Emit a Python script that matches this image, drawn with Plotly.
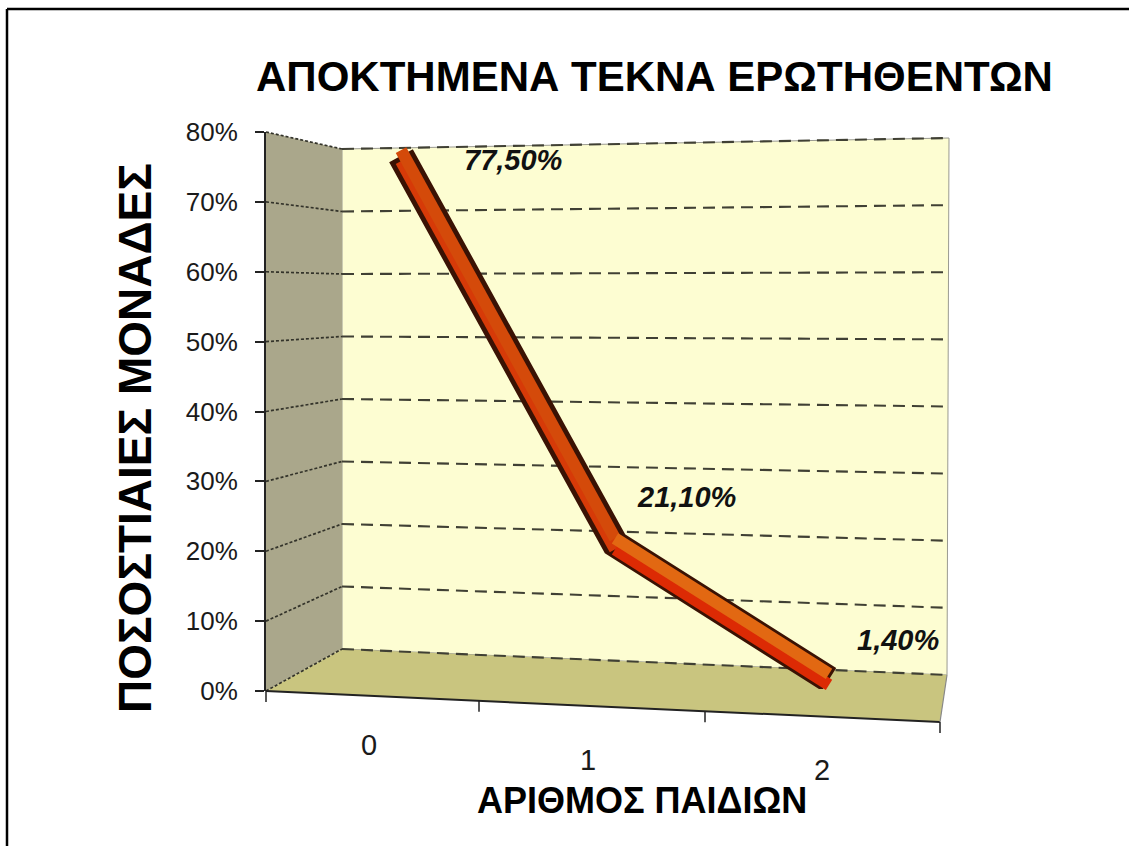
import plotly.graph_objects as go

# ---------------- data ----------------
categories = ["0", "1", "2"]
values = [0.775, 0.211, 0.014]
y_ticks = [0.0, 0.1, 0.2, 0.3, 0.4, 0.5, 0.6, 0.7, 0.8]
title_text = "ΑΠΟΚΤΗΜΕΝΑ ΤΕΚΝΑ ΕΡΩΤΗΘΕΝΤΩΝ"
y_title = "ΠΟΣΟΣΤΙΑΙΕΣ ΜΟΝΑΔΕΣ"
x_title = "ΑΡΙΘΜΟΣ ΠΑΙΔΙΩΝ"

# ---------------- geometry (pixels, style only) ----------------
W, H = 1129, 846
ML, MR, MT, MB = 250, 180, 120, 140
YMAX = 0.8
FRONT_X, BACK_X, RIGHT_X = 266, 342, 949
FRONT_BOT, FRONT_TOP = 691, 132
BACKL_BOT, BACKL_TOP = 649, 149
BACKR_BOT, BACKR_TOP = 675, 138
FLOOR_FR = (940, 722)
x_bounds = [266, 479, 705, 940]          # category boundaries along the front edge
xlabel_pos = [(369, 745), (588, 760), (822, 770)]
label_shift = [(112, -4), (71, 47), (69, 39)]

FONT = "Liberation Sans, Arial, sans-serif"


def px(x):
    return (x - ML) / (W - ML - MR)


def py(y):
    return (H - MB - y) / (H - MT - MB)


def lerp(a, b, t):
    return a + (b - a) * t


def front_y(v):
    return lerp(FRONT_BOT, FRONT_TOP, v / YMAX)


def backl_y(v):
    return lerp(BACKL_BOT, BACKL_TOP, v / YMAX)


def backr_y(v):
    return lerp(BACKR_BOT, BACKR_TOP, v / YMAX)


def path(pts):
    return "M " + " L ".join(f"{px(x):.5f},{py(y):.5f}" for x, y in pts) + " Z"


shapes = []
# frame lines (top and left)
shapes.append(dict(type="line", xref="paper", yref="paper", x0=px(7), y0=py(9), x1=px(W), y1=py(9),
                   line=dict(color="black", width=2.5)))
shapes.append(dict(type="line", xref="paper", yref="paper", x0=px(7), y0=py(9), x1=px(7), y1=py(H),
                   line=dict(color="black", width=2.5)))

# back wall
shapes.append(dict(type="path", xref="paper", yref="paper", layer="below",
                   path=path([(BACK_X, BACKL_TOP), (RIGHT_X, BACKR_TOP), (RIGHT_X - 2, BACKR_BOT), (BACK_X, BACKL_BOT)]),
                   fillcolor="#fdfdd2", line=dict(color="#9a9a90", width=1)))
# left wall
shapes.append(dict(type="path", xref="paper", yref="paper", layer="below",
                   path=path([(FRONT_X, FRONT_TOP), (BACK_X, BACKL_TOP), (BACK_X, BACKL_BOT), (FRONT_X, FRONT_BOT)]),
                   fillcolor="#aaa78b", line=dict(width=0)))
# floor
shapes.append(dict(type="path", xref="paper", yref="paper", layer="below",
                   path=path([(BACK_X, BACKL_BOT), (RIGHT_X - 2, BACKR_BOT), FLOOR_FR, (FRONT_X, FRONT_BOT)]),
                   fillcolor="#c9c57f", line=dict(width=0)))

# gridlines on left wall and back wall
for v in y_ticks:
    shapes.append(dict(type="line", xref="paper", yref="paper", layer="below",
                       x0=px(FRONT_X), y0=py(front_y(v)), x1=px(BACK_X), y1=py(backl_y(v)),
                       line=dict(color="#33332a", width=1.7, dash="3px,2px")))
    shapes.append(dict(type="line", xref="paper", yref="paper", layer="below",
                       x0=px(BACK_X), y0=py(backl_y(v)), x1=px(RIGHT_X), y1=py(backr_y(v)),
                       line=dict(color="#404034", width=2.1, dash="12px,7px")))

# floor edges
shapes.append(dict(type="line", xref="paper", yref="paper", x0=px(FRONT_X), y0=py(FRONT_BOT),
                   x1=px(FLOOR_FR[0]), y1=py(FLOOR_FR[1]), line=dict(color="#222", width=2)))
shapes.append(dict(type="line", xref="paper", yref="paper", x0=px(RIGHT_X - 2), y0=py(BACKR_BOT),
                   x1=px(FLOOR_FR[0]), y1=py(FLOOR_FR[1]), line=dict(color="#888", width=1.2)))
# x-axis tick marks along the front edge
for xb in x_bounds:
    t = (xb - FRONT_X) / (FLOOR_FR[0] - FRONT_X)
    yb = lerp(FRONT_BOT, FLOOR_FR[1], t)
    shapes.append(dict(type="line", xref="paper", yref="paper", x0=px(xb), y0=py(yb),
                       x1=px(xb), y1=py(yb + 11), line=dict(color="#222", width=1.5)))

fig = go.Figure()

# empty trace so that the front value-axis subplot is created and drawn
fig.add_trace(go.Scatter(x=[], y=[], xaxis="x", yaxis="y", mode="lines",
                         hoverinfo="skip", showlegend=False))

# ribbon (3-D look: outline, lower face, upper face)
fig.add_trace(go.Scatter(x=categories, y=values, xaxis="x2", yaxis="y2", mode="lines",
                         line=dict(color="#3a1204", width=27), hoverinfo="skip", showlegend=False))
seg_colors_low = ["#d63a08", "#dc2a04"]
seg_colors_up = ["#d44a0a", "#e26812"]
for i in range(len(categories) - 1):
    fig.add_trace(go.Scatter(x=categories[i:i + 2], y=values[i:i + 2], xaxis="x2", yaxis="y3",
                             mode="lines", line=dict(color=seg_colors_low[i], width=12),
                             hoverinfo="skip", showlegend=False))
    fig.add_trace(go.Scatter(x=categories[i:i + 2], y=values[i:i + 2], xaxis="x2", yaxis="y4",
                             mode="lines", line=dict(color=seg_colors_up[i], width=12),
                             hoverinfo="skip", showlegend=False))

annotations = []
for c, v, (dx, dy) in zip(categories, values, label_shift):
    txt = f"{v * 100:.2f}%".replace(".", ",")
    annotations.append(dict(x=c, y=v, xref="x2", yref="y2", text=f"<b><i>{txt}</i></b>",
                            showarrow=False, xshift=dx, yshift=dy, xanchor="center", yanchor="middle",
                            font=dict(family=FONT, size=29, color="#111")))
for c, (lx, ly) in zip(categories, xlabel_pos):
    annotations.append(dict(x=px(lx), y=py(ly), xref="paper", yref="paper", text=c, showarrow=False,
                            xanchor="center", yanchor="middle",
                            font=dict(family=FONT, size=29, color="#1a1a1a")))
annotations.append(dict(x=px(654), y=py(76), xref="paper", yref="paper", text=f"<b>{title_text}</b>",
                        showarrow=False, xanchor="center", yanchor="middle",
                        font=dict(family=FONT, size=42, color="black")))
annotations.append(dict(x=px(135), y=py(438), xref="paper", yref="paper", text=f"<b>{y_title}</b>",
                        showarrow=False, textangle=-90, xanchor="center", yanchor="middle",
                        font=dict(family=FONT, size=46, color="black")))
annotations.append(dict(x=px(642), y=py(800), xref="paper", yref="paper", text=f"<b>{x_title}</b>",
                        showarrow=False, xanchor="center", yanchor="middle",
                        font=dict(family=FONT, size=36, color="black")))

RIB_X0, RIB_X1 = 294, 936
RIB_BOT, RIB_TOP = 689, 138.5
OFF = 5.5

fig.update_layout(
    width=W, height=H, autosize=False,
    margin=dict(l=ML, r=MR, t=MT, b=MB, pad=0),
    paper_bgcolor="white", plot_bgcolor="rgba(0,0,0,0)",
    showlegend=False,
    xaxis=dict(domain=[px(FRONT_X), px(FLOOR_FR[0])], range=[0, 1], showticklabels=False,
               showgrid=False, zeroline=False, showline=False, ticks="", fixedrange=True),
    yaxis=dict(domain=[py(FRONT_BOT), py(FRONT_TOP)], range=[0, YMAX], tickvals=y_ticks,
               tickformat=".0%", ticks="outside", ticklen=9, tickwidth=1.5, tickcolor="#222",
               showline=True, linecolor="#222", linewidth=1.8, showgrid=False, zeroline=False,
               showticklabels=True, ticklabeloverflow="allow", automargin=False,
               ticklabelstandoff=12,
               tickfont=dict(family=FONT, size=26, color="#1a1a1a"), anchor="x"),
    xaxis2=dict(domain=[px(RIB_X0), px(RIB_X1)], type="category", range=[-0.5, 2.5],
                visible=False, anchor="y2"),
    yaxis2=dict(domain=[py(RIB_BOT), py(RIB_TOP)], range=[0, YMAX], visible=False, anchor="x2"),
    yaxis3=dict(domain=[py(RIB_BOT + OFF), py(RIB_TOP + OFF)], range=[0, YMAX], visible=False, anchor="x2"),
    yaxis4=dict(domain=[py(RIB_BOT - OFF), py(RIB_TOP - OFF)], range=[0, YMAX], visible=False, anchor="x2"),
    shapes=shapes,
    annotations=annotations,
)

fig.write_html("out.html", config={"displayModeBar": False},
               post_script="document.body.style.margin='0';")
